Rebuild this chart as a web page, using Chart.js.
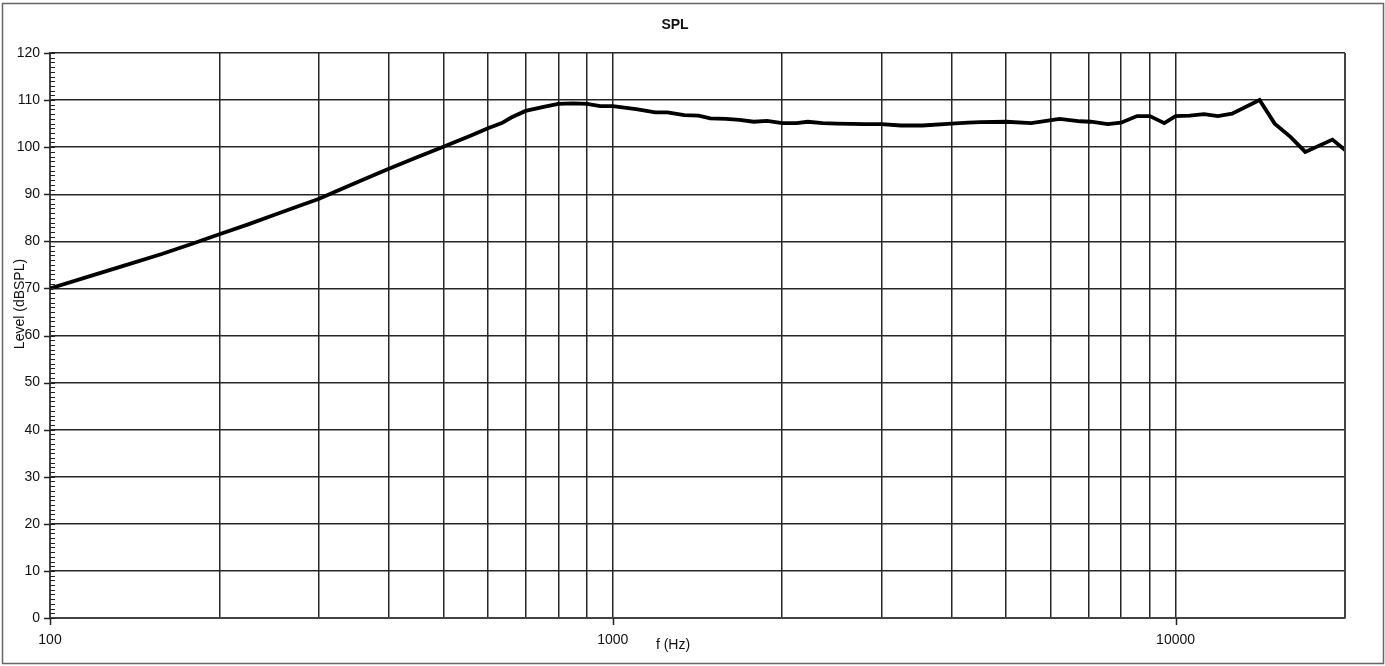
<!DOCTYPE html>
<html>
<head>
<meta charset="utf-8">
<title>SPL</title>
<script src="https://cdn.jsdelivr.net/npm/chart.js@4.4.1/dist/chart.umd.min.js"></script>
<style>
  html, body { margin: 0; padding: 0; background: #fff; }
  #wrap { width: 1385px; height: 666px; }
</style>
</head>
<body>
<div id="wrap"><canvas id="splChart" width="1385" height="666"></canvas></div>
<script>
// frequency response readings (Hz -> dB SPL)
const freqs = [100, 117, 135, 158, 180, 200, 225, 250, 280, 300, 335, 365, 400, 450, 500, 560, 600, 635, 660, 700,
  750, 800, 850, 900, 950, 1000, 1100, 1190, 1250, 1340, 1420, 1490, 1590, 1680, 1780, 1880, 2000, 2120, 2220, 2360,
  2500, 2800, 3000, 3250, 3550, 4000, 4280, 4500, 5000, 5540, 6220, 6770, 7070, 7580, 8000, 8540, 9000, 9550, 10000,
  10600, 11230, 11890, 12600, 14100, 15000, 16000, 17000, 19000, 20000];
const levels = [70.0, 72.5, 74.8, 77.3, 79.6, 81.5, 83.6, 85.6, 87.7, 89.0, 91.5, 93.4, 95.4, 97.9, 100.1, 102.5, 104.0, 105.1, 106.3, 107.7,
  108.5, 109.2, 109.3, 109.2, 108.7, 108.7, 108.1, 107.4, 107.4, 106.8, 106.7, 106.1, 106.0, 105.8, 105.4, 105.6, 105.1, 105.1, 105.4, 105.1,
  105.0, 104.9, 104.9, 104.6, 104.6, 105.0, 105.2, 105.3, 105.4, 105.1, 106.0, 105.5, 105.4, 104.9, 105.2, 106.6, 106.6, 105.1, 106.6,
  106.7, 107.0, 106.6, 107.1, 110.0, 105.0, 102.2, 99.0, 101.6, 99.4];

// axis ticks
const gridFreqs = [100, 200, 300, 400, 500, 600, 700, 800, 900, 1000, 2000, 3000, 4000, 5000, 6000, 7000, 8000, 9000,
  10000, 20000];
const freqLabels = [100, 1000, 10000];
const levelTicks = [0, 10, 20, 30, 40, 50, 60, 70, 80, 90, 100, 110, 120];

const FONT = 'Arial, "Liberation Sans", sans-serif';
const GRID = '#262626';

// background, frame, extra ticks and the texts
const decorations = {
  id: 'decorations',
  beforeDraw(chart) {
    const ctx = chart.ctx;
    ctx.save();
    ctx.fillStyle = '#fff';
    ctx.fillRect(0, 0, chart.width, chart.height);
    ctx.restore();
  },
  afterDraw(chart) {
    const ctx = chart.ctx;
    const area = chart.chartArea;
    const x = chart.scales.x;
    const y = chart.scales.y;
    ctx.save();

    // plot border on the right
    ctx.strokeStyle = '#444';
    ctx.lineWidth = 2;
    ctx.beginPath();
    ctx.moveTo(area.right, area.top);
    ctx.lineTo(area.right, area.bottom);
    ctx.stroke();

    // y minor ticks (every 1 dB) inside, major ticks outside
    ctx.strokeStyle = '#222';
    ctx.lineWidth = 1;
    for (let v = 0; v <= 120; v++) {
      const py = Math.round(y.getPixelForValue(v)) + 0.5;
      ctx.beginPath();
      ctx.moveTo(area.left, py);
      ctx.lineTo(area.left + 5, py);
      ctx.stroke();
    }
    ctx.lineWidth = 1.5;
    levelTicks.forEach(v => {
      const py = Math.round(y.getPixelForValue(v)) + 0.5;
      ctx.beginPath();
      ctx.moveTo(area.left - 6, py);
      ctx.lineTo(area.left, py);
      ctx.stroke();
    });
    // x major ticks below
    freqLabels.forEach(f => {
      const px = Math.round(x.getPixelForValue(f)) + 0.5;
      ctx.beginPath();
      ctx.moveTo(px, area.bottom);
      ctx.lineTo(px, area.bottom + 7);
      ctx.stroke();
    });

    // title
    ctx.fillStyle = '#111';
    ctx.textAlign = 'center';
    ctx.textBaseline = 'middle';
    ctx.font = 'bold 14px ' + FONT;
    ctx.fillText('SPL', 675, 25);

    // axis titles
    ctx.font = '14px ' + FONT;
    ctx.fillText('f (Hz)', 673, 645);
    ctx.translate(20, 304);
    ctx.rotate(-Math.PI / 2);
    ctx.fillText('Level (dBSPL)', 0, 0);
    ctx.setTransform(1, 0, 0, 1, 0, 0);

    // outer frame
    ctx.strokeStyle = '#666';
    ctx.lineWidth = 1.5;
    ctx.strokeRect(2.5, 3.5, 1381, 660);
    ctx.restore();
  }
};

const ctx = document.getElementById('splChart').getContext('2d');
new Chart(ctx, {
  type: 'line',
  data: {
    datasets: [{
      label: 'SPL',
      data: freqs.map((f, i) => ({ x: f, y: levels[i] })),
      borderColor: '#000',
      borderWidth: 3.8,
      pointRadius: 0,
      tension: 0,
      fill: false
    }]
  },
  options: {
    responsive: false,
    animation: false,
    layout: { padding: { top: 53, right: 40, bottom: 0, left: 0 } },
    plugins: {
      legend: { display: false },
      tooltip: { enabled: false },
      title: { display: false }
    },
    scales: {
      x: {
        type: 'logarithmic',
        min: 100,
        max: 20000,
        afterBuildTicks: scale => {
          scale.ticks = gridFreqs.map(v => ({ value: v }));
        },
        afterFit: scale => { scale.height = 48; },
        grid: { color: GRID, lineWidth: 1.5, drawTicks: false },
        border: { display: true, color: '#444', width: 2 },
        ticks: {
          autoSkip: false,
          maxRotation: 0,
          padding: 14,
          color: '#111',
          font: { family: FONT, size: 14 },
          callback: value => freqLabels.includes(value) ? String(value) : ''
        }
      },
      y: {
        min: 0,
        max: 120,
        afterBuildTicks: scale => {
          scale.ticks = levelTicks.map(v => ({ value: v }));
        },
        afterFit: scale => { scale.width = 50; },
        grid: { color: GRID, lineWidth: 1.5, drawTicks: false },
        border: { display: true, color: '#444', width: 2 },
        ticks: {
          padding: 10,
          color: '#111',
          font: { family: FONT, size: 14 },
          callback: value => String(value)
        }
      }
    }
  },
  plugins: [decorations]
});
</script>
</body>
</html>
